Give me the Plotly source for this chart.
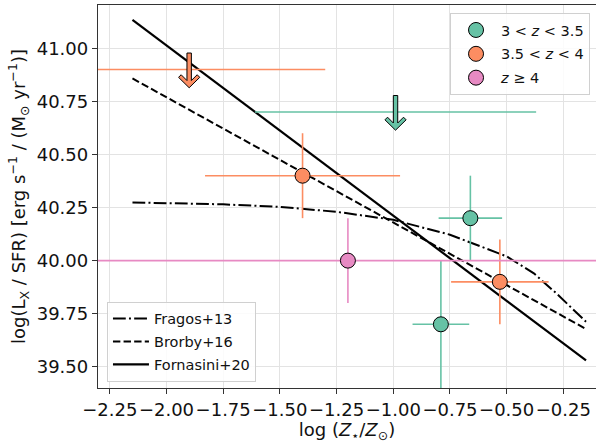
import plotly.graph_objects as go

# ---- data ----
green_x = [-0.66, -0.79]
green_y = [40.20, 39.70]
green_xerr = [0.14, 0.125]
green_yerr = [0.20, 0.30]

orange_x = [-1.40, -0.53]
orange_y = [40.40, 39.90]
orange_xerr = [0.43, 0.215]
orange_yerr = [0.20, 0.20]

pink_x = [-1.20]
pink_y = [40.00]
pink_xerr = [2.0]
pink_yerr = [0.20]

# upper limits
ul_green_x = [-0.99]
ul_green_y = [40.70]
ul_green_xerr = [0.62]
ul_orange_x = [-1.90]
ul_orange_y = [40.90]
ul_orange_xerr = [0.60]

# model relations
fragos_x = [-2.15, -1.75, -1.50, -1.25, -1.00, -0.75, -0.50, -0.38, -0.28, -0.15]
fragos_y = [40.274, 40.265, 40.253, 40.230, 40.192, 40.122, 40.020, 39.940, 39.845, 39.712]
brorby_x = [-2.15, -0.15]
brorby_y = [40.858, 39.678]
fornasini_x = [-2.15, -0.15]
fornasini_y = [41.134, 39.530]

x_ticks = [-2.25, -2.00, -1.75, -1.50, -1.25, -1.00, -0.75, -0.50, -0.25]
y_ticks = [39.50, 39.75, 40.00, 40.25, 40.50, 40.75, 41.00]

GREEN = "#66c2a5"
ORANGE = "#fc8d62"
PINK = "#e78ac3"
FONT = "DejaVu Sans"

fig = go.Figure()

# model lines
for i, (nm, xs, ys, ln) in enumerate([
    ("Fragos+13", fragos_x, fragos_y, dict(color="black", width=2, dash="12.8px,3.2px,2px,3.2px")),
    ("Brorby+16", brorby_x, brorby_y, dict(color="black", width=2, dash="7.4px,3.2px")),
    ("Fornasini+20", fornasini_x, fornasini_y, dict(color="black", width=2.2)),
]):
    fig.add_trace(go.Scatter(x=xs, y=ys, mode="lines", name=nm, line=ln,
                             legend="legend2", legendgroup="m%d" % i))

def err(vals, color):
    return dict(type="data", array=vals, color=color, thickness=1.6, width=0, visible=True)

# upper-limit horizontal bars (no markers)
for ux, uy, ue, c in [(ul_orange_x, ul_orange_y, ul_orange_xerr, ORANGE),
                      (ul_green_x, ul_green_y, ul_green_xerr, GREEN)]:
    fig.add_trace(go.Scatter(x=ux, y=uy, mode="markers", showlegend=False,
                             marker=dict(size=1, color="rgba(0,0,0,0)"),
                             error_x=err(ue, c), hoverinfo="skip"))

# data points
for i, (name, xs, ys, xe, ye, c) in enumerate([
    ("3 < <i>z</i> < 3.5", green_x, green_y, green_xerr, green_yerr, GREEN),
    ("3.5 < <i>z</i> < 4", orange_x, orange_y, orange_xerr, orange_yerr, ORANGE),
    ("<i>z</i> ≥ 4", pink_x, pink_y, pink_xerr, pink_yerr, PINK),
]):
    fig.add_trace(go.Scatter(x=xs, y=ys, mode="markers", name=name,
                             marker=dict(size=15, color=c, line=dict(color="black", width=1)),
                             error_x=err(xe, c), error_y=err(ye, c),
                             legend="legend", legendgroup="d%d" % i))

# downward arrow glyphs for upper limits (pixel-sized paths anchored at data)
arrow_path = ("M -2.2,16.5 L 2.2,16.5 L 2.2,-11 L 8,-5.2 L 10.6,-7.8 L 0,-18.2 "
              "L -10.6,-7.8 L -8,-5.2 L -2.2,-11 Z")
for ux, uy, c in [(ul_orange_x, ul_orange_y, ORANGE), (ul_green_x, ul_green_y, GREEN)]:
    for a, b in zip(ux, uy):
        fig.add_shape(type="path", path=arrow_path, xref="x", yref="y",
                      xsizemode="pixel", ysizemode="pixel", xanchor=a, yanchor=b,
                      fillcolor=c, line=dict(color="black", width=1), layer="above")

axis_common = dict(
    showgrid=True, gridcolor="#e3e3e3", gridwidth=1,
    showline=True, linecolor="#333333", linewidth=1.3,
    ticks="outside", ticklen=5, tickcolor="#333333", tickwidth=1.2,
    tickfont=dict(family=FONT, size=18, color="#111111"),
    zeroline=False, tickformat=".2f", automargin=False, tickangle=0,
)

fig.update_layout(
    width=596, height=443,
    margin=dict(l=98, r=0, t=5, b=55),
    paper_bgcolor="white", plot_bgcolor="white",
    font=dict(family=FONT, color="#111111"),
    xaxis=dict(range=[-2.302, -0.106], tickvals=x_ticks, mirror=True,
               title=dict(text="log (<i>Z</i><sub>⋆</sub>/<i>Z</i><sub>⊙</sub>)",
                          font=dict(family=FONT, size=18), standoff=4),
               **axis_common),
    yaxis=dict(range=[39.40, 41.204], tickvals=y_ticks,
               title=dict(text="log(L<sub>X</sub> / SFR) [erg s<sup>−1</sup> / (M<sub>⊙</sub> yr<sup>−1</sup>)]",
                          font=dict(family=FONT, size=18), standoff=6),
               **axis_common),
    legend=dict(x=0.988, y=0.979, xanchor="right", yanchor="top",
                bgcolor="rgba(255,255,255,0.85)", bordercolor="#d0d0d0", borderwidth=1,
                itemwidth=40, tracegroupgap=2,
                font=dict(family=FONT, size=14.5, color="#111111")),
    legend2=dict(x=0.018, y=0.0165, xanchor="left", yanchor="bottom",
                 bgcolor="rgba(255,255,255,0.85)", bordercolor="#d0d0d0", borderwidth=1,
                 itemwidth=36, tracegroupgap=1,
                 font=dict(family=FONT, size=14.5, color="#111111")),
    showlegend=True,
)

fig.write_html("out.html", config={"displayModeBar": False},
               post_script="document.body.style.margin='0px';")
